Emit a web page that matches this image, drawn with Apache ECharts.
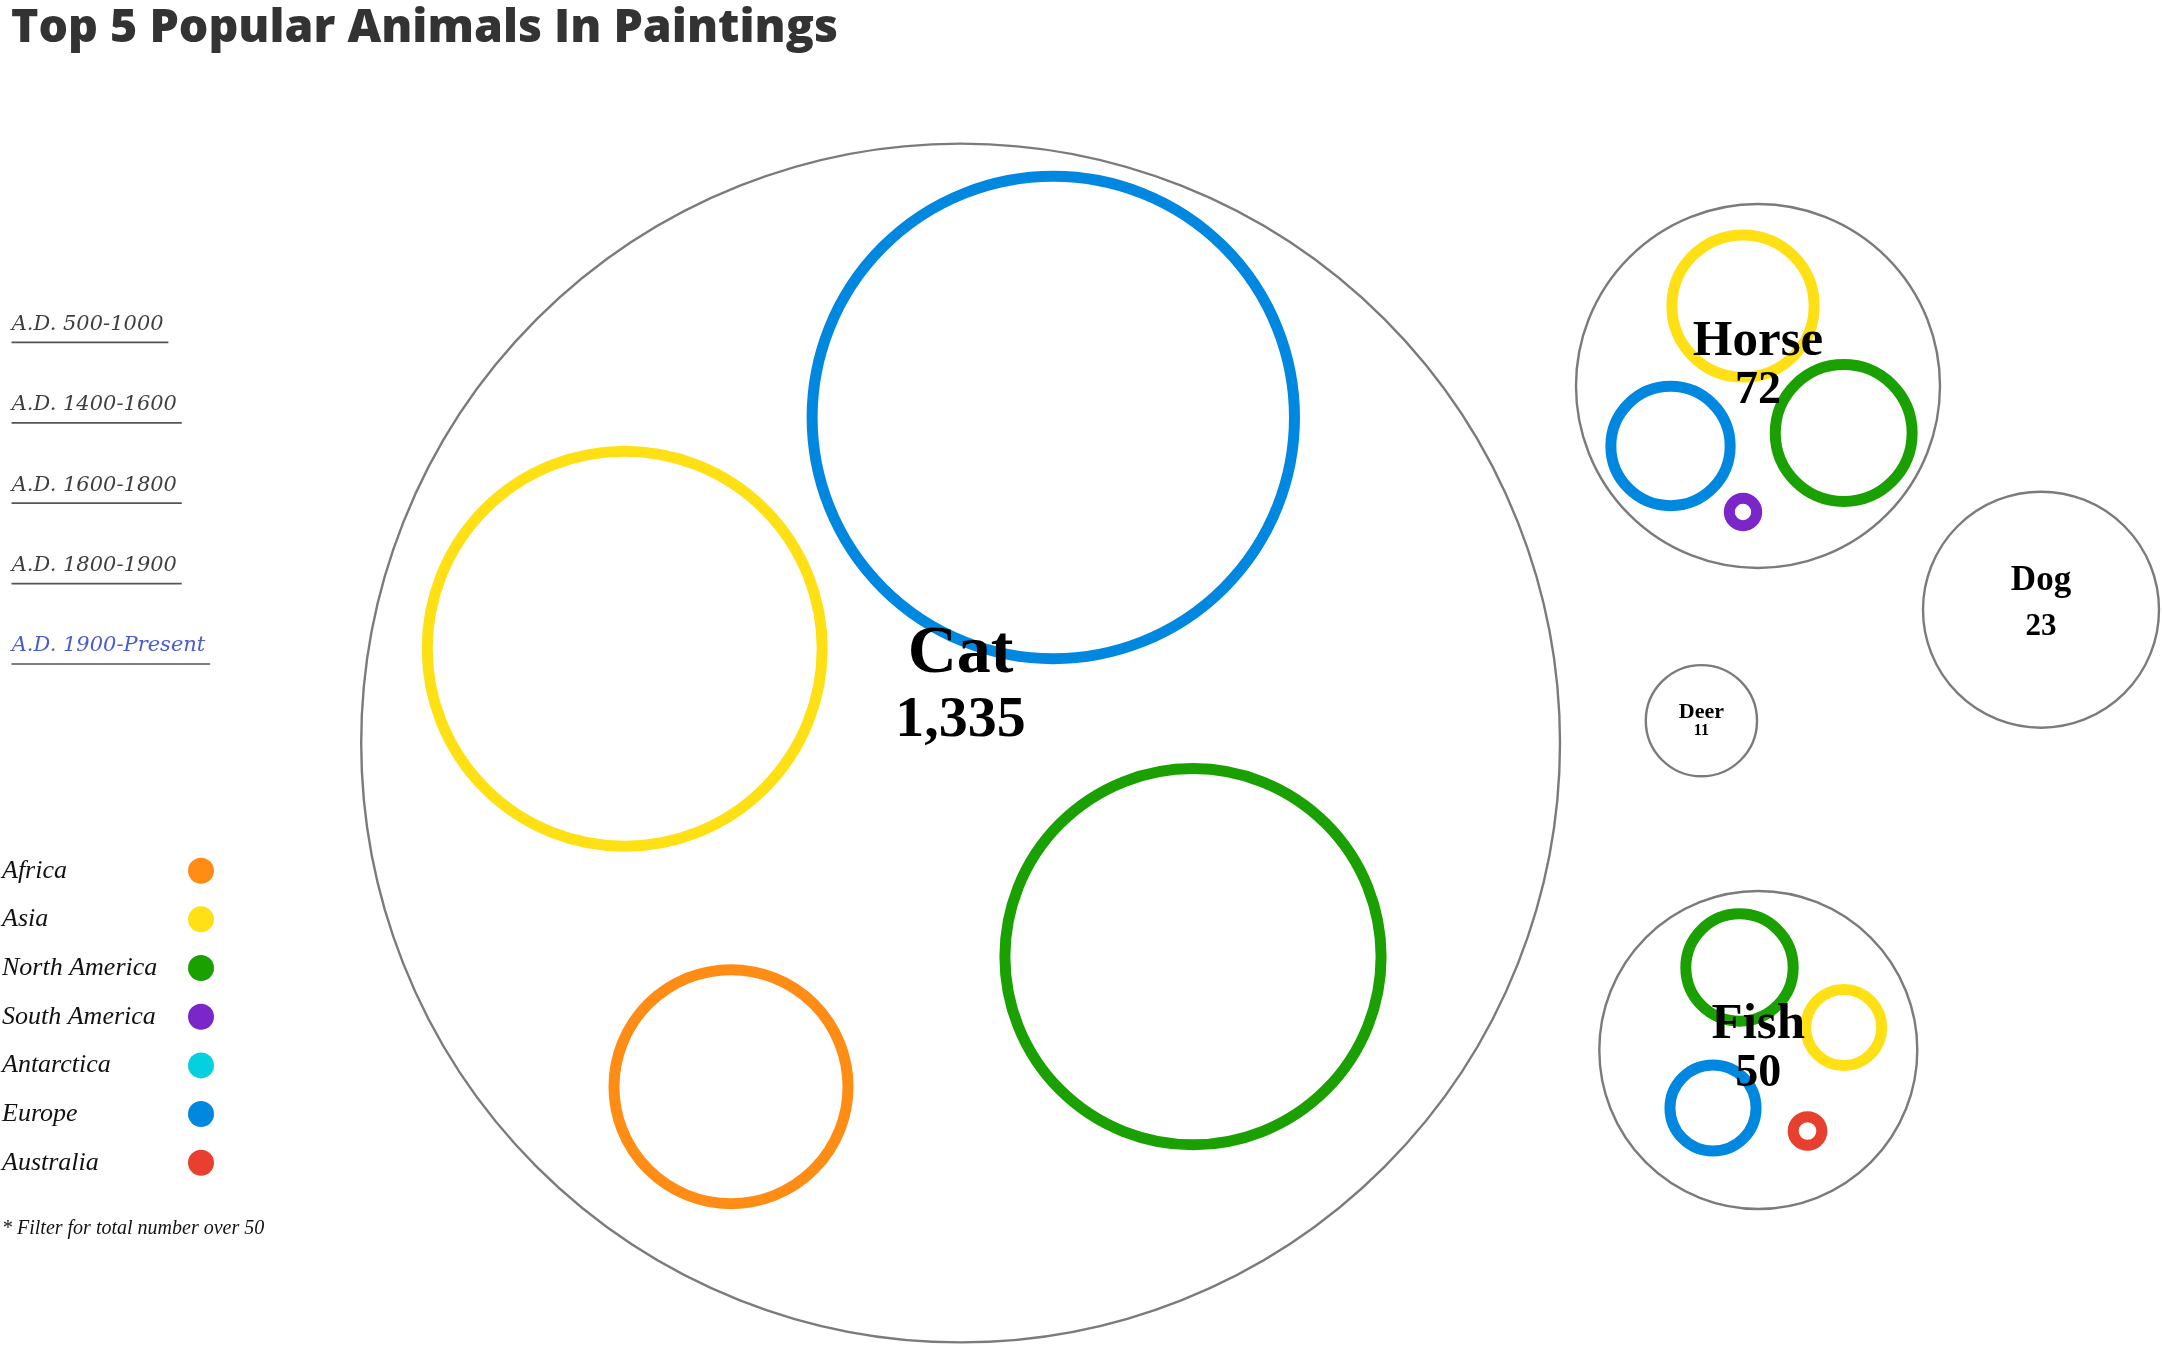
<!DOCTYPE html>
<html>
<head>
<meta charset="utf-8">
<script src="https://cdn.jsdelivr.net/npm/echarts@6/dist/echarts.min.js"></script>
<style>
html,body{margin:0;padding:0;background:#fff;}
#chart{width:2162px;height:1346px;}
</style>
</head>
<body>
<div id="chart"></div>
<script>
// ---------------- data ----------------
const chartTitle = 'Top 5 Popular Animals In Paintings';
const animals = ['Cat', 'Horse', 'Fish', 'Dog', 'Deer'];
const totals = [1335, 72, 50, 23, 11];
const continents = ['Africa', 'Asia', 'North America', 'South America', 'Antarctica', 'Europe', 'Australia'];
const catByContinent   = [125, 356, 323, 0, 0, 531, 0];
const horseByContinent = [0, 27, 25, 1, 0, 19, 0];
const fishByContinent  = [0, 7, 14, 0, 0, 9, 1];
const periods = ['A.D. 500-1000', 'A.D. 1400-1600', 'A.D. 1600-1800', 'A.D. 1800-1900', 'A.D. 1900-Present'];
const activePeriod = 'A.D. 1900-Present';
const footnote = '* Filter for total number over 50';

// ---------------- layout & style (pack layout, in units of the hidden axes) ----------------
const childValues = [catByContinent, horseByContinent, fishByContinent, [], []];
const packCenter = [[960.6, 743], [1758, 386], [1758.3, 1050], [2041, 609.7], [1701.4, 720.7]];
const packRadius = [599.4, 182, 159, 118, 55.6];
const childCenter = [
  [[731, 1086.7], [624.7, 648.7], [1193, 956.7], null, null, [1053.3, 417.5], null],
  [null, [1743, 306], [1843.7, 433], [1743, 512], null, [1670.5, 446], null],
  [null, [1843.7, 1027.5], [1739.5, 967.5], null, null, [1713, 1108], [1807.5, 1131]],
  [], []
];
const childFill = 0.638;
// [name font size, name baseline offset, number font size, number baseline offset]
const labelLayout = [[68, -65.7, 58, -2], [51, -27, 46, 21], [51, -7.7, 46, 40], [35, -17, 31, 27.3], [22, -0.7, 16, 16]];
const continentColors = ['#FF8C15', '#FFE015', '#1AA000', '#7B26C9', '#05D0DF', '#0088E0', '#E8402F'];

const SERIF = '"Liberation Serif", "Times New Roman", serif';
const MID_SERIF = 0.3375;

const chart = echarts.init(document.getElementById('chart'), null, {renderer: 'canvas'});

const mctx = document.createElement('canvas').getContext('2d');
function textWidth(font, s) { mctx.font = font; return mctx.measureText(s).width; }

// period links + footnote
const graphics = [];
const periodFontSize = 21;
const periodFont = 'italic ' + periodFontSize + 'px "DejaVu Serif"';
periods.forEach((p, i) => {
  const base = 331.7 + i * 80.4;
  const w = textWidth(periodFont, p);
  graphics.push({
    type: 'text', x: 11.7, y: base - 0.346 * periodFontSize,
    style: {text: p, fontFamily: 'DejaVu Serif', fontStyle: 'italic', fontSize: periodFontSize,
      fill: p === activePeriod ? '#4A5BD0' : '#3f3f3f', verticalAlign: 'middle', align: 'left'}
  });
  graphics.push({
    type: 'line', shape: {x1: 11.5, y1: base + 10.7, x2: 11.5 + w + 5, y2: base + 10.7},
    style: {stroke: '#555', lineWidth: 1.7}
  });
});
graphics.push({
  type: 'text', x: 2, y: 1235 - MID_SERIF * 20,
  style: {text: footnote, fontFamily: 'Liberation Serif', fontStyle: 'italic', fontSize: 20,
    fill: '#111', verticalAlign: 'middle', align: 'left'}
});

const legendSeries = continents.map((c, j) => ({
  type: 'scatter', name: c, data: [], itemStyle: {color: continentColors[j], opacity: 1}
}));

const option = {
  animation: false,
  backgroundColor: '#fff',
  title: {
    text: chartTitle, left: 11, top: 5, padding: 0,
    textStyle: {fontFamily: '"Open Sans", Roboto, sans-serif', fontWeight: 800, fontSize: 46.5, lineHeight: 46.5, color: '#333'}
  },
  grid: {left: 0, right: 0, top: 0, bottom: 0},
  xAxis: {type: 'value', min: 0, max: 2162, show: false},
  yAxis: {type: 'value', min: 0, max: 1346, inverse: true, show: false},
  legend: {
    orient: 'vertical', left: 2, top: 857.7, padding: 0,
    itemWidth: 26, itemHeight: 26, itemGap: 22.67,
    align: 'right', icon: 'circle', selectedMode: false,
    data: continents.map((c, j) => ({name: c, itemStyle: {color: continentColors[j], opacity: 1}})),
    formatter: n => '{t|' + n + '}',
    textStyle: {
      width: 181,
      rich: {t: {fontFamily: SERIF, fontStyle: 'italic', fontSize: 26, lineHeight: 26, color: '#111', align: 'left'}}
    }
  },
  graphic: graphics,
  series: [{
    type: 'custom',
    name: 'animals',
    coordinateSystem: 'cartesian2d',
    encode: {x: 0, y: 1},
    data: animals.map((a, i) => ({name: a, value: [packCenter[i][0], packCenter[i][1], totals[i]]})),
    renderItem: function (params, api) {
      const i = params.dataIndex;
      const cx = api.value(0), cy = api.value(1);
      const c = api.coord([cx, cy]);
      const R = api.size([packRadius[i], 0])[0];
      const els = [{
        type: 'circle', shape: {cx: c[0], cy: c[1], r: R},
        style: {fill: '#fff', stroke: '#7b7b7b', lineWidth: 2.4}
      }];
      const k = R * childFill / Math.sqrt(totals[i]);
      childValues[i].forEach((v, j) => {
        if (!v) return;
        const p = api.coord(childCenter[i][j]);
        els.push({
          type: 'circle', shape: {cx: p[0], cy: p[1], r: k * Math.sqrt(v)},
          style: {fill: 'none', stroke: continentColors[j], lineWidth: 11}
        });
      });
      const L = labelLayout[i];
      const yName = api.coord([cx, cy + L[1]])[1];
      const yNum = api.coord([cx, cy + L[3]])[1];
      els.push({
        type: 'text',
        style: {text: animals[i], x: c[0], y: yName - MID_SERIF * L[0], align: 'center', verticalAlign: 'middle',
          fontFamily: 'Liberation Serif', fontWeight: 'bold', fontSize: L[0], fill: '#000'}
      });
      els.push({
        type: 'text',
        style: {text: totals[i].toLocaleString('en-US'), x: c[0], y: yNum - MID_SERIF * L[2], align: 'center', verticalAlign: 'middle',
          fontFamily: 'Liberation Serif', fontWeight: 'bold', fontSize: L[2], fill: '#000'}
      });
      return {type: 'group', children: els};
    }
  }].concat(legendSeries)
};
chart.setOption(option);
</script>
</body>
</html>
